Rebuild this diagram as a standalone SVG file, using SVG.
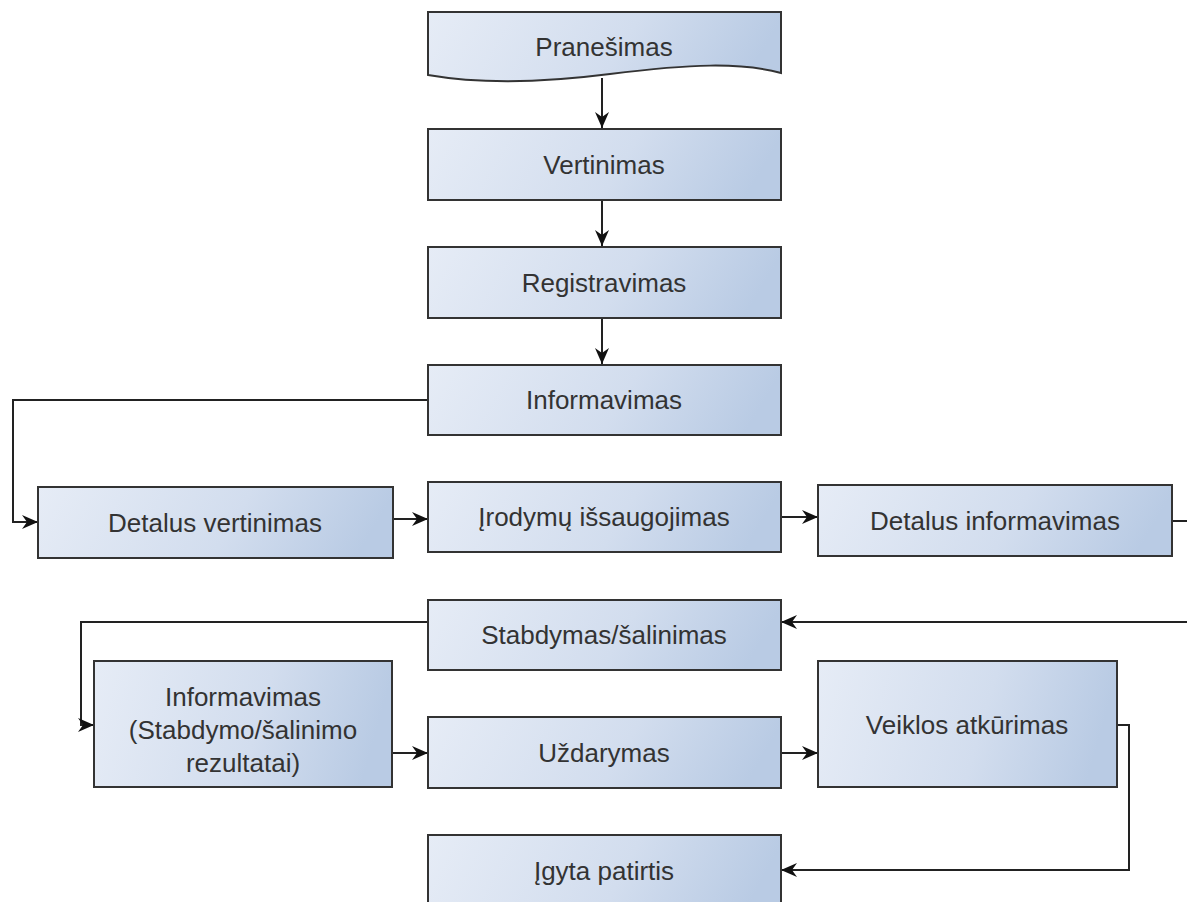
<svg xmlns="http://www.w3.org/2000/svg" width="1187" height="902" viewBox="0 0 1187 902">
<style>
.box{fill:url(#g);stroke:#333;stroke-width:2}
.t{font-family:"Liberation Sans",Arial,sans-serif;font-size:26px;fill:#333;text-anchor:middle}
.c{fill:none;stroke:#222;stroke-width:2}
.a{marker-end:url(#ah)}
</style>
<defs>
<linearGradient id="g" x1="0" y1="0" x2="1" y2="0.12">
<stop offset="0" stop-color="#e6ecf6"/>
<stop offset="0.6" stop-color="#d2ddee"/>
<stop offset="1" stop-color="#b9cbe4"/>
</linearGradient>
<marker id="ah" markerUnits="userSpaceOnUse" markerWidth="18" markerHeight="14" refX="16" refY="7" orient="auto" viewBox="0 0 18 14">
<path d="M0,0 L16,7 L0,14 L5,7 Z" fill="#111"/>
</marker>
</defs>
<g id="connectors">
<path class="c a" d="M602,78 V128"/>
<path class="c a" d="M602,200 V246"/>
<path class="c a" d="M602,318 V364"/>
<path class="c a" d="M428,400 H13 V522 H38"/>
<path class="c a" d="M393,519 H428"/>
<path class="c a" d="M781,517 H818"/>
<path class="c" d="M1172,521 H1187"/>
<path class="c a" d="M1187,622 H781"/>
<path class="c a" d="M428,622 H81 V725 H94"/>
<path class="c a" d="M392,753 H428"/>
<path class="c a" d="M781,753 H818"/>
<path class="c a" d="M1115,725 H1129 V870 H781"/>
</g>
<g id="n1"><path class="box" d="M428,12 H781 V73 C740,62 690,64 610,74 C540,83 480,84 428,75 Z"/><text class="t" x="604" y="56">Pranešimas</text></g>
<g id="n2"><rect class="box" x="428" y="129" width="353" height="71"/><text class="t" x="604" y="174">Vertinimas</text></g>
<g id="n3"><rect class="box" x="428" y="247" width="353" height="71"/><text class="t" x="604" y="292">Registravimas</text></g>
<g id="n4"><rect class="box" x="428" y="365" width="353" height="70"/><text class="t" x="604" y="409">Informavimas</text></g>
<g id="n5"><rect class="box" x="38" y="487" width="355" height="71"/><text class="t" x="215" y="532">Detalus vertinimas</text></g>
<g id="n6"><rect class="box" x="428" y="482" width="353" height="70"/><text class="t" x="604" y="526">Įrodymų išsaugojimas</text></g>
<g id="n7"><rect class="box" x="818" y="485" width="354" height="71"/><text class="t" x="995" y="530">Detalus informavimas</text></g>
<g id="n8"><rect class="box" x="428" y="600" width="353" height="70"/><text class="t" x="604" y="644">Stabdymas/šalinimas</text></g>
<g id="n9"><rect class="box" x="94" y="661" width="298" height="126"/><text class="t" x="243" y="706">Informavimas</text><text class="t" x="243" y="739">(Stabdymo/šalinimo</text><text class="t" x="243" y="772">rezultatai)</text></g>
<g id="n10"><rect class="box" x="428" y="717" width="353" height="71"/><text class="t" x="604" y="762">Uždarymas</text></g>
<g id="n11"><rect class="box" x="818" y="661" width="299" height="126"/><text class="t" x="967" y="734">Veiklos atkūrimas</text></g>
<g id="n12"><rect class="box" x="428" y="835" width="353" height="80"/><text class="t" x="604" y="880">Įgyta patirtis</text></g>
</svg>
